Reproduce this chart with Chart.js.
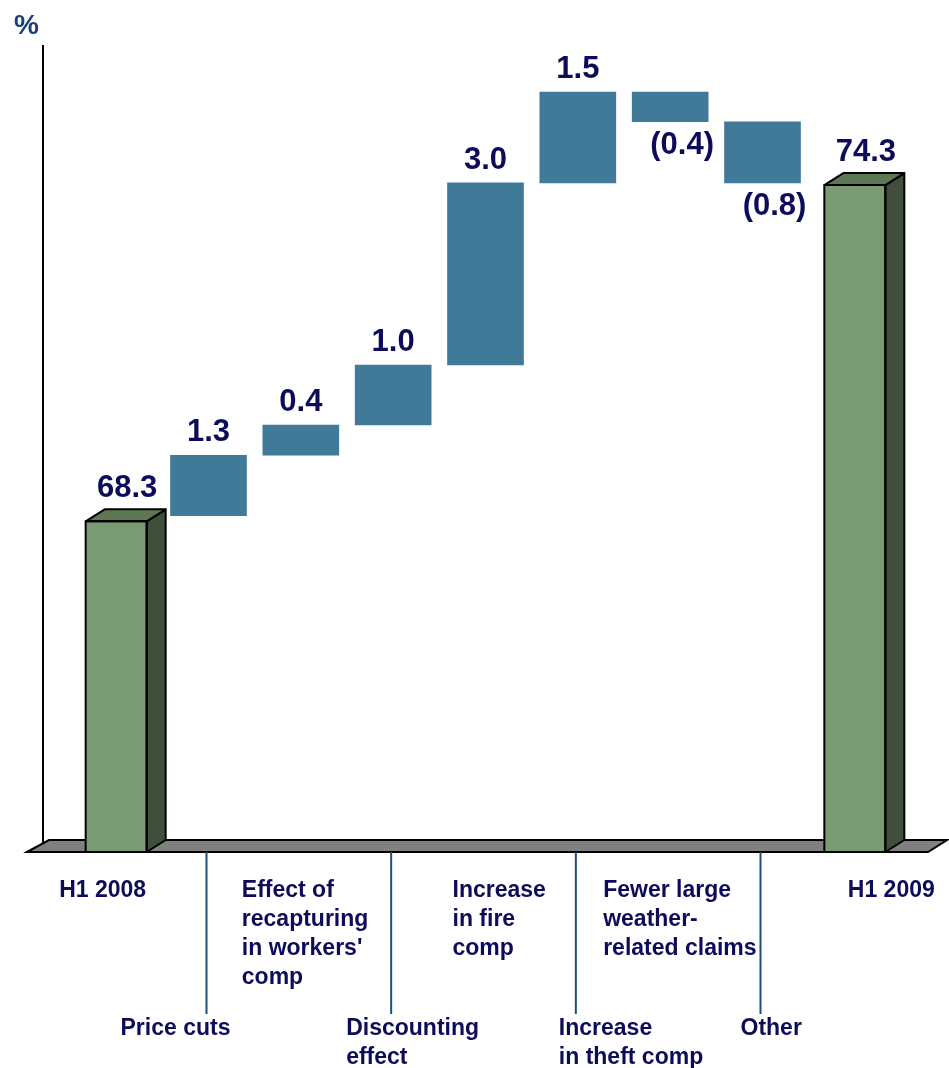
<!DOCTYPE html>
<html lang="en">
<head>
  <meta charset="UTF-8">
  <title>Combined ratio walk H1 2008 - H1 2009</title>
  <script src="https://cdn.jsdelivr.net/npm/chart.js"></script>
  <style>
    html, body {
      margin: 0;
      padding: 0;
      background-color: #ffffff;
    }

    #wrap {
      position: relative;
      width: 949px;
      height: 1068px;
    }
  </style>
</head>
<body>
  <div id="wrap"><canvas id="walkChart"></canvas></div>

  <script>
    // category names, one entry per line of the label
    const categories = [
      ['H1 2008'],
      ['Price cuts'],
      ['Effect of', 'recapturing', "in workers'", 'comp'],
      ['Discounting', 'effect'],
      ['Increase', 'in fire', 'comp'],
      ['Increase', 'in theft comp'],
      ['Fewer large', 'weather-', 'related claims'],
      ['Other'],
      ['H1 2009']
    ];
    const totals = [68.3, null, null, null, null, null, null, null, 74.3];
    // floating steps as drawn (bottom / top of each block)
    const stepLow = [null, 68.40, 69.48, 70.02, 71.09, 74.34, 75.43, 74.34, null];
    const stepHigh = [null, 69.48, 70.02, 71.09, 74.34, 75.96, 75.96, 75.43, null];
    const valueLabels = ['68.3', '1.3', '0.4', '1.0', '3.0', '1.5', '(0.4)', '(0.8)', '74.3'];

    const TEXT = '#0c0c5a';
    const FONT = "'Liberation Sans', Arial, sans-serif";
    // left edge of each label block relative to its category centre
    const labelDx = [-57, -88, -59, -47, -33, -19, -67, -22, -7];
    const depthX = 19, depthY = 12;

    const deco = {
      id: 'deco',
      beforeDatasetsDraw(chart) {
        const ctx = chart.ctx, a = chart.chartArea;
        ctx.save();
        // y axis line
        ctx.strokeStyle = '#000';
        ctx.lineWidth = 2;
        ctx.beginPath();
        ctx.moveTo(a.left - 27, a.top);
        ctx.lineTo(a.left - 27, a.bottom - 6);
        ctx.stroke();
        // grey floor
        ctx.fillStyle = '#808080';
        ctx.beginPath();
        ctx.moveTo(a.left - 43, a.bottom);
        ctx.lineTo(a.left - 21, a.bottom - depthY);
        ctx.lineTo(a.right + 46, a.bottom - depthY);
        ctx.lineTo(a.right + 27, a.bottom);
        ctx.closePath();
        ctx.fill();
        ctx.stroke();
        // "%" unit
        ctx.fillStyle = '#1b3f7a';
        ctx.font = 'bold 28px ' + FONT;
        ctx.textAlign = 'left';
        ctx.textBaseline = 'alphabetic';
        ctx.fillText('%', 14, 34);
        ctx.restore();
      },
      afterDatasetsDraw(chart) {
        const ctx = chart.ctx, a = chart.chartArea;
        const green = chart.getDatasetMeta(0).data;
        const blue = chart.getDatasetMeta(1).data;
        ctx.save();
        ctx.lineWidth = 2;
        ctx.strokeStyle = '#000';
        ctx.lineJoin = 'round';
        green.forEach((el, i) => {
          if (totals[i] == null) return;
          const l = el.x - el.width / 2, r = el.x + el.width / 2;
          const t = el.y, b = Math.min(el.base, a.bottom);
          // side face
          ctx.fillStyle = '#404f3b';
          ctx.beginPath();
          ctx.moveTo(r, t);
          ctx.lineTo(r + depthX, t - depthY);
          ctx.lineTo(r + depthX, b - depthY);
          ctx.lineTo(r, b);
          ctx.closePath();
          ctx.fill();
          ctx.stroke();
          // top face
          ctx.fillStyle = '#5e7856';
          ctx.beginPath();
          ctx.moveTo(l, t);
          ctx.lineTo(l + depthX, t - depthY);
          ctx.lineTo(r + depthX, t - depthY);
          ctx.lineTo(r, t);
          ctx.closePath();
          ctx.fill();
          ctx.stroke();
          // front outline
          ctx.strokeRect(l, t, r - l, b - t);
        });

        // value labels
        ctx.fillStyle = TEXT;
        ctx.font = 'bold 31px ' + FONT;
        ctx.textAlign = 'center';
        ctx.textBaseline = 'alphabetic';
        valueLabels.forEach((txt, i) => {
          if (totals[i] != null) {
            const el = green[i];
            ctx.fillText(txt, el.x + 11, el.y - 24);
          } else {
            const el = blue[i];
            const top = Math.min(el.y, el.base), bot = Math.max(el.y, el.base);
            if (txt.startsWith('(')) {
              ctx.fillText(txt, el.x + 12, bot + 32);
            } else {
              ctx.fillText(txt, el.x, top - 14);
            }
          }
        });
        ctx.restore();
      },
      afterDraw(chart) {
        const ctx = chart.ctx, a = chart.chartArea;
        const xs = chart.scales.x;
        ctx.save();
        ctx.font = 'bold 23px ' + FONT;
        ctx.fillStyle = TEXT;
        ctx.textAlign = 'left';
        ctx.textBaseline = 'alphabetic';
        categories.forEach((lines, i) => {
          const cx = xs.getPixelForValue(i);
          const lower = i % 2 === 1;
          const y0 = lower ? a.bottom + 183 : a.bottom + 45;
          if (lower) {
            ctx.strokeStyle = '#1f4e79';
            ctx.lineWidth = 2;
            ctx.beginPath();
            ctx.moveTo(cx - 2, a.bottom);
            ctx.lineTo(cx - 2, a.bottom + 162);
            ctx.stroke();
          }
          lines.forEach((ln, k) => {
            ctx.fillText(ln, cx + labelDx[i], y0 + k * 29);
          });
        });
        ctx.restore();
      }
    };

    const ctx = document.getElementById('walkChart').getContext('2d');
    new Chart(ctx, {
      type: 'bar',
      data: {
        labels: categories.map(c => c.join(' ')),
        datasets: [
          {
            label: 'Total',
            data: totals,
            backgroundColor: '#7b9b74',
            borderWidth: 0,
            barThickness: 61,
            grouped: false
          },
          {
            label: 'Change',
            data: stepLow.map((lo, i) => lo == null ? null : [lo, stepHigh[i]]),
            backgroundColor: '#417a99',
            borderWidth: 0,
            barThickness: 76,
            grouped: false
          }
        ]
      },
      options: {
        responsive: true,
        maintainAspectRatio: false,
        animation: false,
        layout: {
          padding: { left: 70, right: 48, top: 45, bottom: 216 }
        },
        plugins: {
          legend: { display: false },
          tooltip: { enabled: false }
        },
        scales: {
          x: {
            display: false,
            offset: true
          },
          y: {
            display: false,
            min: 62.4,
            max: 76.8
          }
        }
      },
      plugins: [deco]
    });
  </script>
</body>
</html>
